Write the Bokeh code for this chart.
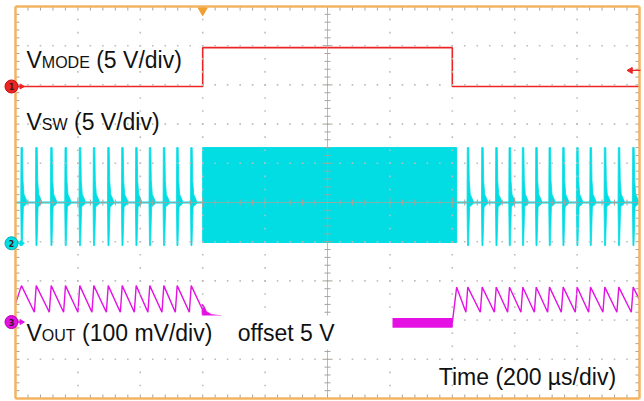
import numpy as np
from bokeh.plotting import figure
from bokeh.models import Range1d
from bokeh.core.properties import value
from bokeh.embed import file_html
from bokeh.resources import INLINE

# ---------------- data (in scope divisions) ----------------
mode_edges = [0.0, 3.0, 7.0, 10.0]          # VMODE switching instants
mode_levels = [2.96, 3.95, 2.96]            # VMODE level per interval

sw_spikes_left = [0.096, 0.332, 0.572, 0.801, 1.030, 1.255, 1.486,
                  1.710, 1.934, 2.152, 2.377, 2.591, 2.816]
sw_spikes_right = [7.248, 7.479, 7.704, 7.917, 8.130, 8.345, 8.558,
                   8.777, 9.001, 9.215, 9.444, 9.668, 9.899]
sw_burst = [3.0, 7.07]                      # continuous switching interval
sw_burst_low, sw_base, sw_high = -1.02, 0.0, 1.40
sw_spike_low = -1.10

vout_start = -2.58
vout_top_left = -2.12
vout_top_right = -2.16
vout_bottom = -2.80
vout_idle = -3.07
vout_idle_noise = 0.11
vout_idle_span = [3.3, 7.0]

ch_levels = [2.96, -1.04, -3.05]
ch_names = ["1", "2", "3"]
trig_time = 3.0
trig_level = 3.37

# ---------------- layout helpers (pixels -> divisions) ----------------
DIVX, DIVY = 62.4, 39.2
def X(px):
    return (px - 15.0) / DIVX
def Y(py):
    return (202.0 - py) / DIVY

RED = "#ee2424"
CYAN = "#02dde4"
MAG = "#e410e4"
ORANGE = "#f3b462"
GRIDC = "#bdbdbd"
TICKC = "#a9a39c"

W, H = 644, 401
p = figure(width=W, height=H, x_range=Range1d(X(0), X(W)),
           y_range=Range1d(Y(H), Y(0)), output_backend="svg",
           toolbar_location=None, min_border=0,
           x_axis_location=None, y_axis_location=None)
p.grid.visible = False
p.outline_line_color = None
p.background_fill_color = "white"
p.border_fill_color = "white"

xmin, xmax = X(15), X(639)
ymin, ymax = Y(398), Y(6)

# ---------------- VMODE ----------------
mx, my = [], []
for i, lv in enumerate(mode_levels):
    mx += [mode_edges[i], mode_edges[i + 1]]
    my += [lv, lv]
p.line(mx, my, line_color=RED, line_width=1.6)

# ---------------- VSW ----------------
p.quad(left=[sw_burst[0]], right=[sw_burst[1]], bottom=[sw_burst_low],
       top=[sw_high], fill_color=CYAN, line_color=CYAN, line_width=1)
p.line([xmin, xmax], [sw_base, sw_base], line_color=CYAN, line_width=1.8)
SPK_DX = [-0.008, 0.016, 0.024, 0.04, 0.085, 0.085, 0.03, 0.012, -0.004, -0.012]
SPK_FY = [1, 1, 0.4, 0.15, 0.03, -0.03, -0.1, -1, -1, -0.08]
sxs, sys_ = [], []
for t in sw_spikes_left + sw_spikes_right:
    sxs.append([t + d for d in SPK_DX])
    sys_.append([sw_base + (f * sw_high if f >= 0 else -f * sw_spike_low) for f in SPK_FY])
p.patches(sxs, sys_, fill_color=CYAN, line_color=CYAN, line_width=0.8)

# ---------------- VOUT ----------------
period = 0.2
lx, ly = [0.0], [vout_start]
for i, t in enumerate(sw_spikes_left):
    if i > 0:
        lx.append(t - 0.03); ly.append(vout_bottom)
    lx.append(t); ly.append(vout_top_left)
tend = sw_burst[0] - 0.01
lx.append(tend)
ly.append(vout_top_left + (vout_bottom - vout_top_left) * (tend - sw_spikes_left[-1]) / period)
p.line(lx, ly, line_color=MAG, line_width=1.4)
# sag after mode change
p.patch([tend, 3.02, 3.06, 3.14, 3.3, 3.3, 3.0, tend],
        [ly[-1] + 0.12, -2.64, -2.78, -2.86, -2.89, -2.95, -2.95, ly[-1] - 0.1],
        fill_color=MAG, line_color=MAG, line_width=0.8)
rx, ry = [vout_idle_span[1], sw_burst[1]], [vout_idle, vout_top_right]
for t in sw_spikes_right:
    rx.append(t - 0.03); ry.append(vout_bottom)
    rx.append(t); ry.append(vout_top_right)
rx.append(xmax)
ry.append(vout_top_right + (vout_bottom - vout_top_right) * (xmax - sw_spikes_right[-1]) / period)
p.line(rx, ry, line_color=MAG, line_width=1.4)

# ---------------- graticule ----------------
gxs, gys = [], []
for gx in [1, 2, 3, 4, 6, 7, 8, 9]:
    for k in range(-14, 15):
        gxs.append(gx); gys.append(k / 3.0)
for gy in [-4, -3, -2, -1, 1, 2, 3, 4]:
    for k in range(0, 50):
        gxs.append(k * 0.2); gys.append(gy)
p.scatter(gxs, gys, marker="square", size=1.6, fill_color=GRIDC,
          line_color=None)

# center axes
p.segment([5, xmin], [ymin, 0], [5, xmax], [ymax, 0], line_color=TICKC,
          line_width=1, line_alpha=0.75)
tx0, ty0, tx1, ty1 = [], [], [], []
for k in range(-24, 25):
    yv = k * 0.2
    h = 5 if k % 5 == 0 else 3
    tx0.append(5 - h / DIVX); tx1.append(5 + h / DIVX); ty0.append(yv); ty1.append(yv)
for k in range(0, 50):
    xv = k * 0.2
    h = 5 if k % 5 == 0 else 3
    tx0.append(xv); tx1.append(xv); ty0.append(-h / DIVY); ty1.append(h / DIVY)
# border ticks
for k in range(-24, 25):
    yv = k * 0.2
    tx0 += [xmin, xmax]; tx1 += [xmin + 4 / DIVX, xmax - 4 / DIVX]
    ty0 += [yv, yv]; ty1 += [yv, yv]
for k in range(0, 50):
    xv = k * 0.2
    tx0 += [xv, xv]; tx1 += [xv, xv]
    ty0 += [ymax, ymin]; ty1 += [ymax - 4 / DIVY, ymin + 4 / DIVY]
p.segment(tx0, ty0, tx1, ty1, line_color=TICKC, line_width=1)

# idle noisy VOUT band (solid trace, drawn above the graticule dots)
p.quad(left=[vout_idle_span[0]], right=[vout_idle_span[1]],
       bottom=[vout_idle - vout_idle_noise], top=[vout_idle + vout_idle_noise],
       fill_color=MAG, line_color=MAG)

# orange frame
p.segment([xmin, xmin, xmax, xmin], [ymin, ymax, ymin, ymin],
          [xmin, xmax, xmax, xmax], [ymax, ymax, ymax, ymin],
          line_color=ORANGE, line_width=2.5)

# ---------------- label mask and labels ----------------
p.quad(left=[X(24)], right=[X(392)], top=[Y(315)], bottom=[Y(349)],
       fill_color="white", line_color=None)

FONT = value("Liberation Sans")
def label(px, py, txt, size):
    # py: desired baseline in pixels; small empirical correction for svg text
    p.text([X(px)], [Y(py - 0.39 * size)], text=[txt], text_font=FONT,
           text_font_size=f"{size}px", text_color="#111111",
           text_baseline="alphabetic", text_align="left")

label(26, 68, "V", 23); label(41.3, 68, "MODE", 16); label(95.7, 68, "(5 V/div)", 23)
label(26, 130, "V", 23); label(41.3, 130, "SW", 16); label(73.5, 130, "(5 V/div)", 23)
label(26, 341, "V", 23); label(41.3, 341, "OUT", 16); label(81.5, 341, "(100 mV/div)", 23)
label(237.3, 341, "offset 5 V", 23)
label(438.3, 385, "Time (200 \u00b5s/div)", 23)

# ---------------- channel markers ----------------
ccols = [RED, CYAN, MAG]
cedge = ["#c01010", "#00b0b8", "#b000b0"]
for lv, nm, c, e in zip(ch_levels, ch_names, ccols, cedge):
    p.segment([X(14)], [lv], [X(21)], [lv], line_color=c, line_width=1.5)
    p.scatter([X(21)], [lv], marker="triangle", angle=-np.pi / 2, size=5,
              fill_color=c, line_color=c)
    p.scatter([X(11)], [lv], marker="circle", size=13, fill_color=c,
              line_color=e, line_width=1)
    p.text([X(11)], [lv], text=[nm], text_font=value("DejaVu Sans"),
           text_font_size="8px", text_font_style="bold", text_color="#3a1a1a",
           text_align="center", text_baseline="middle")

# trigger markers
p.scatter([trig_time], [Y(10)], marker="inverted_triangle", size=9,
          fill_color="#f0a030", line_color="#f0a030")
p.segment([X(631)], [trig_level], [X(640)], [trig_level], line_color=RED, line_width=1.2)
p.scatter([X(630)], [trig_level], marker="triangle", angle=np.pi / 2, size=6,
          fill_color=RED, line_color=RED)

open("out.html", "w").write(file_html(p, INLINE))
